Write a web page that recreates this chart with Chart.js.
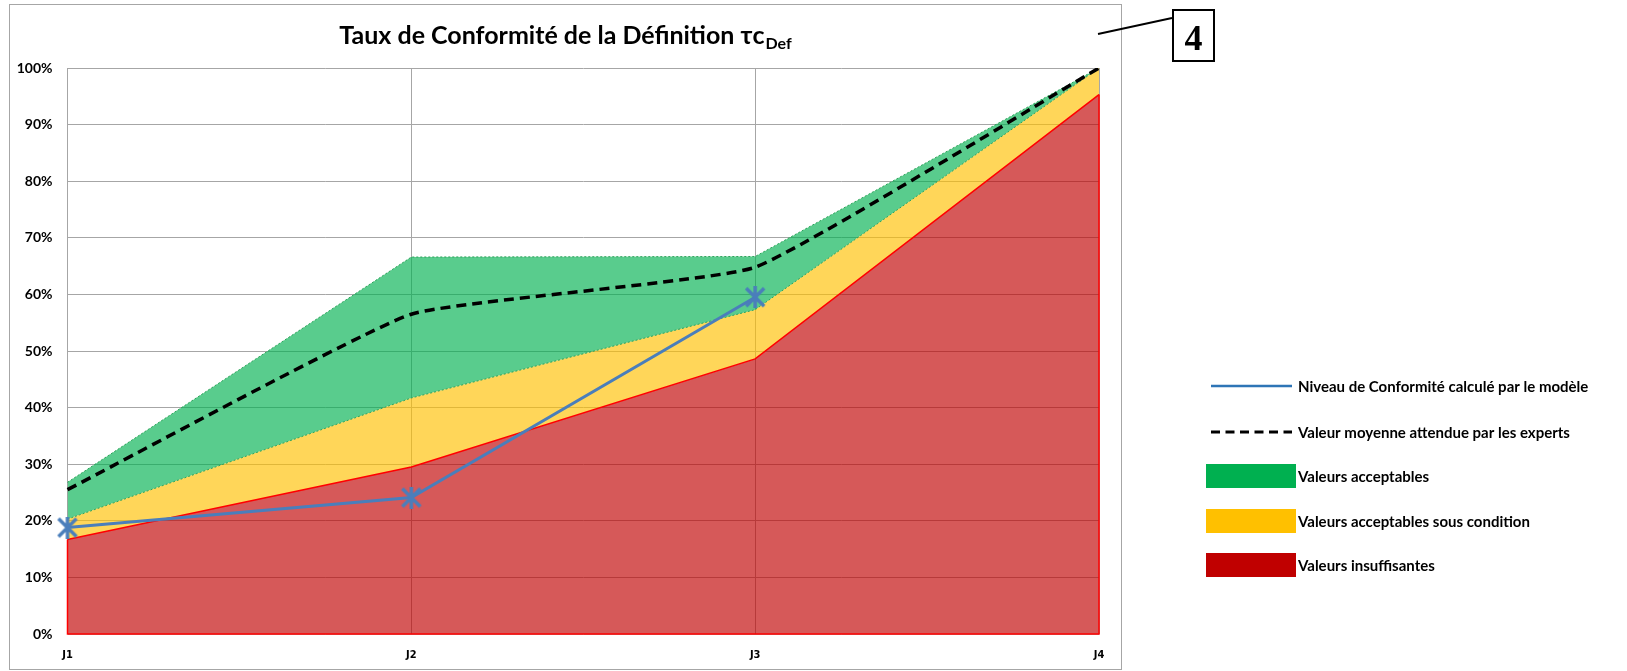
<!DOCTYPE html>
<html lang="fr">
<head>
<meta charset="utf-8">
<title>Taux de Conformité de la Définition</title>
<script src="https://cdn.jsdelivr.net/npm/chart.js@4.4.1/dist/chart.umd.min.js"></script>
<style>
  html, body { margin: 0; padding: 0; background: #fff; }
  canvas { display: block; }
</style>
</head>
<body>
<canvas id="chart" width="1627" height="671"></canvas>
<script>
// Journées d'évaluation
const jours = ['J1', 'J2', 'J3', 'J4'];

// Bornes supérieures des zones d'appréciation (%)
const limiteInsuffisante = [16.7, 29.5, 48.6, 95.3];
const limiteSousCondition = [20.3, 41.7, 57.3, 100];
const limiteAcceptable = [26.8, 66.6, 66.7, 100];

// Valeur moyenne attendue par les experts (%)
const moyenneExperts = [25.5, 56.5, 64.8, 100];

// Niveau de conformité calculé par le modèle (%), pas de valeur pour J4
const niveauModele = [18.8, 24.1, 59.5, null];

const couleurs = {
  acceptable: '#00B050',
  sousCondition: '#FFC000',
  insuffisant: '#C00000',
  modele: '#4A7EBB',
  experts: '#000000'
};

const fontBase = "Lato, 'Open Sans', sans-serif";

function rgba(hex, a) {
  const n = parseInt(hex.slice(1), 16);
  return `rgba(${n >> 16}, ${(n >> 8) & 255}, ${n & 255}, ${a})`;
}

// marqueur étoile (croix + trait vertical) façon Excel
function marqueurEtoile(color, size, lw) {
  const c = document.createElement('canvas');
  c.width = c.height = size;
  const g = c.getContext('2d');
  g.strokeStyle = color;
  g.lineWidth = lw;
  const m = 2;
  g.beginPath();
  g.moveTo(m, m); g.lineTo(size - m, size - m);
  g.moveTo(size - m, m); g.lineTo(m, size - m);
  g.moveTo(size / 2, 0); g.lineTo(size / 2, size);
  g.stroke();
  return c;
}

// contour rouge de la zone insuffisante (bords gauche, droit et bas)
const contourInsuffisant = {
  id: 'contourInsuffisant',
  afterDatasetDraw(chart, args) {
    if (args.index !== 0) return;
    const pts = args.meta.data;
    const y0 = chart.scales.y.getPixelForValue(0);
    const first = pts[0], last = pts[pts.length - 1];
    const ctx = chart.ctx;
    ctx.save();
    ctx.strokeStyle = '#FF0000';
    ctx.lineWidth = 1.5;
    ctx.beginPath();
    ctx.moveTo(first.x, first.y);
    ctx.lineTo(first.x, y0);
    ctx.lineTo(last.x, y0);
    ctx.lineTo(last.x, last.y);
    ctx.stroke();
    ctx.restore();
  }
};

// cadre, titre avec indice, légende et repère numéroté
const habillage = {
  id: 'habillage',
  beforeDraw(chart) {
    const ctx = chart.ctx;
    ctx.save();
    ctx.fillStyle = '#fff';
    ctx.fillRect(0, 0, chart.width, chart.height);
    ctx.restore();
  },
  afterDraw(chart) {
    const ctx = chart.ctx;
    ctx.save();

    // cadre du graphique
    ctx.strokeStyle = '#A6A6A6';
    ctx.lineWidth = 1;
    ctx.strokeRect(9.5, 4.5, 1112, 665);

    // titre
    const titre = 'Taux de Conformité de la Définition τc';
    const indice = 'Def';
    ctx.fillStyle = '#000';
    ctx.textBaseline = 'alphabetic';
    ctx.font = `bold 25px ${fontBase}`;
    const w1 = ctx.measureText(titre).width;
    ctx.font = `bold 16px ${fontBase}`;
    const w2 = ctx.measureText(indice).width;
    const x0 = 565 - (w1 + w2) / 2;
    ctx.font = `bold 25px ${fontBase}`;
    ctx.textAlign = 'left';
    ctx.fillText(titre, x0, 44);
    ctx.font = `bold 16px ${fontBase}`;
    ctx.fillText(indice, x0 + w1 + 1, 49);

    // légende
    const lx = 1211, lw = 81, tx = 1298;
    const ds = chart.data.datasets;
    const entrees = [
      { ds: ds[4], type: 'ligne', y: 386 },
      { ds: ds[3], type: 'tirets', y: 432 },
      { ds: ds[2], type: 'bloc', y: 476 },
      { ds: ds[1], type: 'bloc', y: 521 },
      { ds: ds[0], type: 'bloc', y: 565 }
    ];
    ctx.font = `bold 15px ${fontBase}`;
    ctx.textBaseline = 'middle';
    entrees.forEach(e => {
      if (e.type === 'bloc') {
        ctx.fillStyle = e.ds.legendColor;
        ctx.fillRect(lx - 5, e.y - 12, 90, 24);
      } else {
        ctx.strokeStyle = e.type === 'ligne' ? '#2E75B6' : e.ds.borderColor;
        ctx.lineWidth = e.type === 'ligne' ? 2.5 : 3;
        ctx.setLineDash(e.type === 'tirets' ? [9, 5.5] : []);
        ctx.beginPath();
        ctx.moveTo(lx, e.y);
        ctx.lineTo(lx + lw, e.y);
        ctx.stroke();
        ctx.setLineDash([]);
      }
      ctx.fillStyle = '#000';
      ctx.fillText(e.ds.label, tx, e.y + 1);
    });

    // repère numéroté
    ctx.strokeStyle = '#000';
    ctx.lineWidth = 2;
    ctx.beginPath();
    ctx.moveTo(1098, 34);
    ctx.lineTo(1172, 18);
    ctx.stroke();
    ctx.strokeRect(1173, 10, 41, 51);
    ctx.font = "bold 36px 'Liberation Serif', serif";
    ctx.textAlign = 'center';
    ctx.textBaseline = 'alphabetic';
    ctx.fillText('4', 1193.5, 50);

    ctx.restore();
  }
};

const bandes = [
  { label: 'Valeurs insuffisantes', data: limiteInsuffisante, couleur: couleurs.insuffisant,
    fill: 'origin', borderColor: '#FF0000', borderWidth: 1.5, borderDash: [], order: 1 },
  { label: 'Valeurs acceptables sous condition', data: limiteSousCondition, couleur: couleurs.sousCondition,
    fill: '-1', borderColor: '#2EA35A', borderWidth: 1, borderDash: [2, 2], order: 2 },
  { label: 'Valeurs acceptables', data: limiteAcceptable, couleur: couleurs.acceptable,
    fill: '-1', borderColor: '#2EA35A', borderWidth: 1, borderDash: [2, 2], order: 3 }
].map(b => ({
  label: b.label,
  data: b.data,
  fill: b.fill,
  backgroundColor: rgba(b.couleur, 0.65),
  legendColor: b.couleur,
  borderColor: b.borderColor,
  borderWidth: b.borderWidth,
  borderDash: b.borderDash,
  pointRadius: 0,
  tension: 0,
  order: b.order
}));

new Chart(document.getElementById('chart'), {
  type: 'line',
  data: {
    labels: jours,
    datasets: [
      ...bandes,
      {
        label: 'Valeur moyenne attendue par les experts',
        data: moyenneExperts,
        borderColor: couleurs.experts,
        borderWidth: 3.5,
        borderDash: [10, 6],
        pointRadius: 0,
        fill: false,
        tension: 0.12,
        order: 0
      },
      {
        label: 'Niveau de Conformité calculé par le modèle',
        data: niveauModele,
        borderColor: couleurs.modele,
        borderWidth: 3,
        pointStyle: marqueurEtoile(couleurs.modele, 22, 3.5),
        pointRadius: 11,
        fill: false,
        tension: 0,
        order: 0
      }
    ]
  },
  options: {
    responsive: false,
    animation: false,
    layout: { padding: { left: 0, top: 68, right: 528, bottom: 0 } },
    plugins: {
      legend: { display: false },
      title: { display: false },
      tooltip: { enabled: false }
    },
    scales: {
      x: {
        offset: false,
        grid: { color: '#A6A6A6', lineWidth: 1, drawTicks: false },
        border: { display: false },
        ticks: {
          color: '#000',
          padding: 15,
          maxRotation: 0,
          font: { family: "'Liberation Sans Narrow', 'DejaVu Sans Condensed', sans-serif", size: 11, weight: 'bold' }
        },
        afterFit(scale) { scale.height = 37; }
      },
      y: {
        min: 0,
        max: 100,
        grid: { color: '#A6A6A6', lineWidth: 1, drawTicks: false },
        border: { display: false },
        ticks: {
          stepSize: 10,
          color: '#000',
          padding: 15,
          font: { family: fontBase, size: 14, weight: 'bold' },
          callback: v => v + '%'
        },
        afterFit(scale) { scale.width = 67.5; }
      }
    }
  },
  plugins: [habillage, contourInsuffisant]
});
</script>
</body>
</html>
